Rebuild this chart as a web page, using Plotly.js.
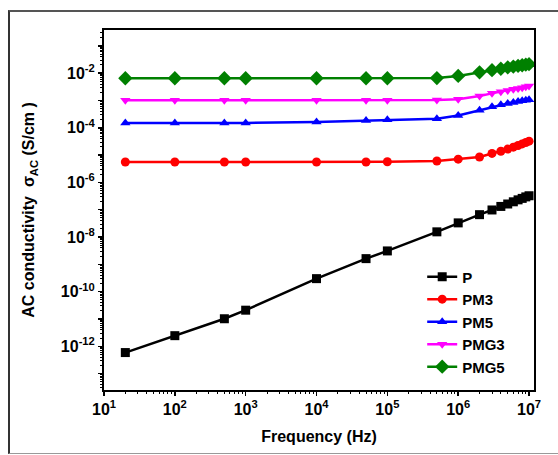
<!DOCTYPE html>
<html>
<head>
<meta charset="utf-8">
<script src="https://cdn.plot.ly/plotly-3.0.1.min.js"></script>
<style>
  html, body { margin: 0; padding: 0; background: #fff; }
  #chart { width: 558px; height: 455px; position: absolute; left: 0; top: 0; }
  #frame { position: absolute; left: 8px; top: 10px; width: 560px; height: 441px;
           border-left: 2px solid #333; border-top: 2px solid #555; border-bottom: 1.5px solid #999;
           pointer-events: none; }
</style>
</head>
<body>
<div id="chart"></div>
<div id="frame"></div>
<script>
const frequency = [20, 100, 500, 1000, 1e4, 5e4, 1e5, 5e5, 1e6, 2e6, 3e6, 4e6, 5e6, 6e6, 7e6, 8e6, 9e6, 1e7];

const P = [5.9e-13, 2.45e-12, 1.02e-11, 2.1e-11, 3.0e-10, 1.62e-9, 3.1e-9, 1.55e-8, 3.3e-8,
           6.6e-8, 9.8e-8, 1.32e-7, 1.62e-7, 1.95e-7, 2.3e-7, 2.6e-7, 2.95e-7, 3.25e-7];
const PM3 = [5.6e-6, 5.6e-6, 5.6e-6, 5.6e-6, 5.6e-6, 5.6e-6, 5.7e-6, 6.1e-6, 7.1e-6,
             8.5e-6, 1.15e-5, 1.38e-5, 1.66e-5, 1.95e-5, 2.24e-5, 2.57e-5, 2.88e-5, 3.24e-5];
const PM5 = [1.51e-4, 1.51e-4, 1.51e-4, 1.51e-4, 1.62e-4, 1.86e-4, 1.95e-4, 2.14e-4, 2.8e-4,
             4.4e-4, 5.9e-4, 6.9e-4, 7.8e-4, 8.5e-4, 9.1e-4, 9.8e-4, 1.02e-3, 1.07e-3];
const PMG3 = [1.02e-3, 1.02e-3, 1.02e-3, 1.02e-3, 1.02e-3, 1.02e-3, 1.02e-3, 1.03e-3, 1.1e-3,
              1.45e-3, 1.82e-3, 2.1e-3, 2.34e-3, 2.57e-3, 2.75e-3, 2.95e-3, 3.16e-3, 3.39e-3];
const PMG5 = [6.5e-3, 6.5e-3, 6.5e-3, 6.5e-3, 6.5e-3, 6.5e-3, 6.5e-3, 6.6e-3, 7.9e-3,
              1.07e-2, 1.29e-2, 1.45e-2, 1.62e-2, 1.74e-2, 1.86e-2, 1.95e-2, 2.04e-2, 2.14e-2];

const seriesNames = ['P', 'PM3', 'PM5', 'PMG3', 'PMG5'];
const seriesData = [P, PM3, PM5, PMG3, PMG5];
const colors = ['#000000', '#ff0000', '#0000ff', '#ff00ff', '#008000'];
const symbols = ['square', 'circle', 'triangle-up', 'triangle-down', 'diamond'];

const xTickVals = [1e1, 1e2, 1e3, 1e4, 1e5, 1e6, 1e7];
const xTickText = ['10<sup>1</sup>', '10<sup>2</sup>', '10<sup>3</sup>', '10<sup>4</sup>', '10<sup>5</sup>', '10<sup>6</sup>', '10<sup>7</sup>'];
const yTickVals = [1e-13, 1e-12, 1e-11, 1e-10, 1e-9, 1e-8, 1e-7, 1e-6, 1e-5, 1e-4, 1e-3, 1e-2, 1e-1];
const yTickText = ['', '10<sup>-12</sup>', '', '10<sup>-10</sup>', '', '10<sup>-8</sup>', '', '10<sup>-6</sup>', '', '10<sup>-4</sup>', '', '10<sup>-2</sup>', ''];

const traces = seriesNames.map((name, i) => ({
  x: frequency,
  y: seriesData[i],
  name: name,
  type: 'scatter',
  mode: 'lines+markers',
  line: { color: colors[i], width: 2.5 },
  marker: { color: colors[i], symbol: symbols[i], size: i === 4 ? 11 : 9 }
}));

const fontFam = 'Liberation Sans, Arial, sans-serif';

const layout = {
  width: 558,
  height: 455,
  margin: { l: 104, r: 24, t: 30, b: 65 },
  paper_bgcolor: '#ffffff',
  plot_bgcolor: '#ffffff',
  showlegend: true,
  legend: {
    x: 0.74, y: 0.36, xanchor: 'left', yanchor: 'top',
    bgcolor: 'rgba(0,0,0,0)',
    font: { family: fontFam, size: 15, color: '#000', weight: 'bold' },
    tracegroupgap: 0,
    itemwidth: 30
  },
  xaxis: {
    type: 'log',
    range: [1, 7.07],
    showgrid: false,
    zeroline: false,
    showline: true, linecolor: '#000', linewidth: 2, mirror: true,
    ticks: 'outside', ticklen: 4, tickwidth: 1.5, tickcolor: '#000',
    tickvals: xTickVals, ticktext: xTickText,
    minor: { ticks: 'outside', ticklen: 2, tickwidth: 1, tickcolor: '#000', dtick: 'D1', showgrid: false },
    tickfont: { family: fontFam, size: 16, color: '#000', weight: 'bold' },
    title: { text: 'Frequency (Hz)', font: { family: fontFam, size: 16, color: '#000', weight: 'bold' }, standoff: 14 }
  },
  yaxis: {
    type: 'log',
    range: [-13.6, -0.42],
    showgrid: false,
    zeroline: false,
    showline: true, linecolor: '#000', linewidth: 2, mirror: true,
    ticks: 'outside', ticklen: 4, tickwidth: 1.5, tickcolor: '#000',
    tickvals: yTickVals, ticktext: yTickText,
    minor: { ticks: 'outside', ticklen: 2, tickwidth: 1, tickcolor: '#000', dtick: 'D1', showgrid: false },
    tickfont: { family: fontFam, size: 16, color: '#000', weight: 'bold' },
    title: { text: 'AC conductivity  σ<sub>AC</sub> (S/cm )', font: { family: fontFam, size: 16, color: '#000', weight: 'bold' }, standoff: 22 }
  }
};

Plotly.newPlot('chart', traces, layout, { displayModeBar: false, staticPlot: true });
</script>
</body>
</html>
